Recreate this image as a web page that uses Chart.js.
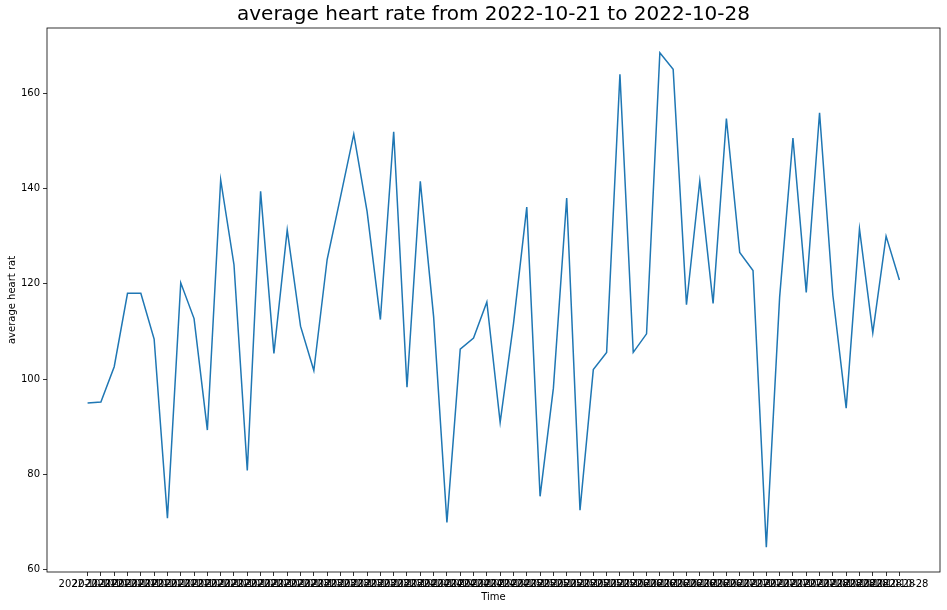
<!DOCTYPE html>
<html>
<head>
<meta charset="utf-8">
<script src="https://cdn.jsdelivr.net/npm/chart.js@4/dist/chart.umd.min.js"></script>
<style>
  body { margin: 0; background: #fff; }
  canvas { display: block; }
</style>
</head>
<body>
<canvas id="myChart" width="947" height="610"></canvas>
<script>
// one label per reading (several readings per day)
const times = [
  "2022-10-21","2022-10-21","2022-10-21","2022-10-21","2022-10-21","2022-10-21","2022-10-21","2022-10-21",
  "2022-10-22","2022-10-22","2022-10-22","2022-10-22","2022-10-22","2022-10-22","2022-10-22","2022-10-22",
  "2022-10-23","2022-10-23","2022-10-23","2022-10-23","2022-10-23","2022-10-23","2022-10-23","2022-10-23",
  "2022-10-24","2022-10-24","2022-10-24","2022-10-24","2022-10-24","2022-10-24","2022-10-24","2022-10-24",
  "2022-10-25","2022-10-25","2022-10-25","2022-10-25","2022-10-25","2022-10-25","2022-10-25","2022-10-25",
  "2022-10-26","2022-10-26","2022-10-26","2022-10-26","2022-10-26","2022-10-26","2022-10-26","2022-10-26",
  "2022-10-27","2022-10-27","2022-10-27","2022-10-27","2022-10-27","2022-10-27","2022-10-27",
  "2022-10-28","2022-10-28","2022-10-28","2022-10-28","2022-10-28","2022-10-28","2022-10-28"
];
const heartRate = [
  95.0, 95.2, 102.6, 118.0, 118.0, 108.4, 70.8, 120.2, 112.7, 89.3,
  141.8, 124.0, 80.8, 139.4, 105.4, 131.3, 111.1, 101.8, 125.1, 138.2,
  151.4, 135.2, 112.5, 151.9, 98.3, 141.5, 113.1, 69.9, 106.3, 108.6,
  116.2, 90.9, 111.6, 136.1, 75.4, 98.1, 138.0, 72.5, 102.0, 105.6,
  164.0, 105.6, 109.5, 168.5, 165.0, 115.6, 141.6, 115.9, 154.7, 126.6,
  122.8, 64.7, 117.2, 150.6, 118.2, 155.9, 117.6, 93.9, 131.5, 109.7,
  130.0, 120.8
];
const yTicks = [60, 80, 100, 120, 140, 160];

// matplotlib-like 5% margins
const n = heartRate.length;
const xPad = (n - 1) * 0.05;
const lo = Math.min(...heartRate), hi = Math.max(...heartRate);
const yPad = (hi - lo) * 0.05;

const font = { family: "'DejaVu Sans', sans-serif", size: 10 };

const frame = {
  id: 'frame',
  afterDraw(chart) {
    const a = chart.chartArea, c = chart.ctx;
    c.save();
    c.strokeStyle = '#000';
    c.lineWidth = 0.8;
    c.strokeRect(a.left, a.top, a.right - a.left, a.bottom - a.top);
    c.restore();
  }
};

const ctx = document.getElementById('myChart').getContext('2d');
new Chart(ctx, {
  type: 'line',
  data: {
    datasets: [{
      label: 'average heart rate',
      data: heartRate.map((v, i) => ({ x: i, y: v })),
      borderColor: '#1f77b4',
      borderWidth: 1.5,
      pointRadius: 0,
      tension: 0,
      fill: false
    }]
  },
  options: {
    responsive: false,
    animation: false,
    devicePixelRatio: 1,
    layout: { padding: { left: 0, right: 7, top: 0, bottom: 0 } },
    plugins: {
      legend: { display: false },
      tooltip: { enabled: false },
      title: {
        display: true,
        fullSize: false,
        text: 'average heart rate from 2022-10-21 to 2022-10-28',
        color: '#000',
        font: { family: "'DejaVu Sans', sans-serif", size: 20, weight: 'normal' },
        padding: { top: 3, bottom: 1 }
      }
    },
    scales: {
      x: {
        type: 'linear',
        min: -xPad,
        max: n - 1 + xPad,
        afterBuildTicks: s => { s.ticks = times.map((t, i) => ({ value: i })); },
        afterFit: s => { s.height = 38; },
        ticks: {
          autoSkip: false,
          maxRotation: 0,
          minRotation: 0,
          padding: 2,
          color: '#000',
          font: font,
          callback: v => times[v]
        },
        grid: { drawOnChartArea: false, drawTicks: true, tickLength: 4, tickWidth: 0.8, tickColor: '#000' },
        border: { display: false },
        title: { display: true, text: 'Time', color: '#000', font: font, padding: { top: 0, bottom: 7 } }
      },
      y: {
        min: lo - yPad,
        max: hi + yPad,
        afterBuildTicks: s => { s.ticks = yTicks.map(v => ({ value: v })); },
        afterFit: s => { s.width = 47; },
        ticks: { padding: 3, color: '#000', font: font },
        grid: { drawOnChartArea: false, drawTicks: true, tickLength: 4, tickWidth: 0.8, tickColor: '#000' },
        border: { display: false },
        title: { display: true, text: 'average heart rat', color: '#000', font: font, padding: { top: 6, bottom: 0 } }
      }
    }
  },
  plugins: [frame]
});
</script>
</body>
</html>
